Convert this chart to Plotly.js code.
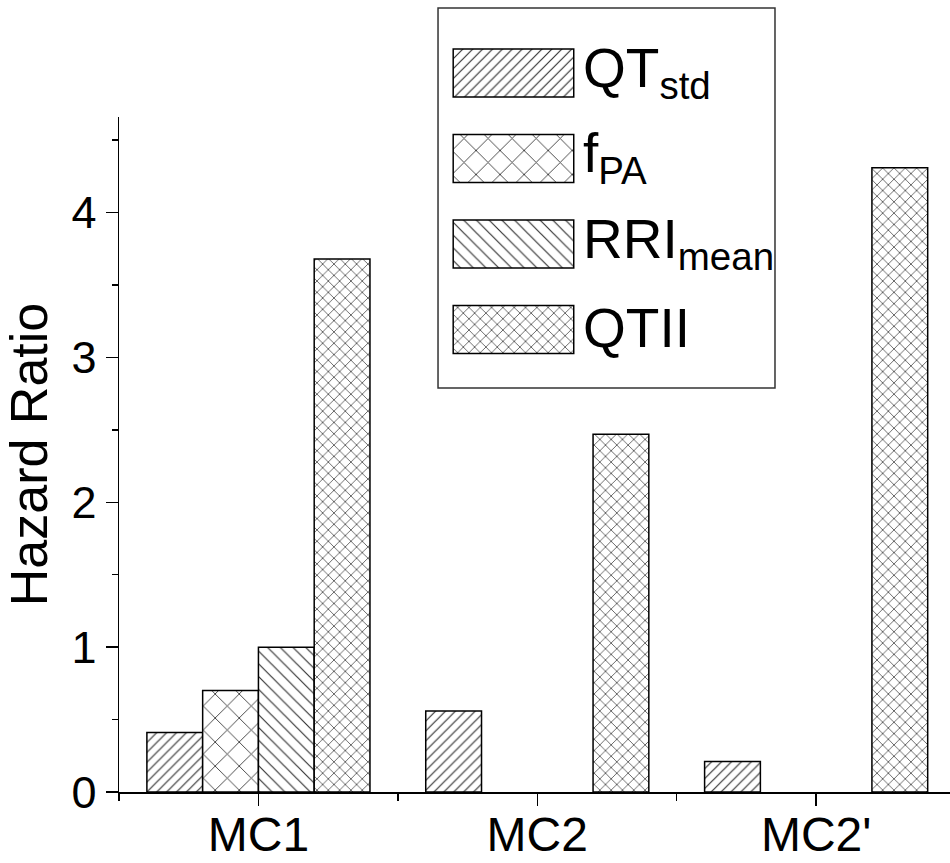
<!DOCTYPE html>
<html>
<head>
<meta charset="utf-8">
<script src="https://cdn.plot.ly/plotly-3.0.1.min.js"></script>
<style>html,body{margin:0;padding:0;background:#fff;}#chart{width:950px;height:863px;}</style>
</head>
<body>
<div id="chart"></div>
<script>
// ---- data ----
const categories = ['MC1', 'MC2', "MC2'"];
const categoryPos = [0, 1, 2];
const seriesKeys = ['QTstd', 'fPA', 'RRImean', 'QTII'];
const seriesLabels = ['QT<sub>std</sub>', 'f<sub>PA</sub>', 'RRI<sub>mean</sub>', 'QTII'];
const qtStd = [0.41, 0.56, 0.21];
const fPA = [0.70, null, null];
const rriMean = [1.00, null, null];
const qtii = [3.68, 2.47, 4.31];
const yTickVals = [0, 1, 2, 3, 4];
const yTickText = ['0', '1', '2', '3', '4'];

// ---- styles ----
const FONT = 'Liberation Sans, Arial, sans-serif';
const patShapes = ['/', 'x', '\\', 'x'];
const patSizes = [7, 17, 9, 8];
const patSolid = [0.17, 0.1, 0.13, 0.17];
const fg = '#333';
const seriesValues = [qtStd, fPA, rriMean, qtii];

const traces = seriesValues.map((vals, i) => ({
  type: 'bar',
  x: categoryPos,
  y: vals,
  name: seriesKeys[i],
  xaxis: 'x', yaxis: 'y',
  marker: {
    color: '#fff',
    line: {color: '#000', width: 1.5},
    pattern: {shape: patShapes[i], size: patSizes[i], solidity: patSolid[i], fgcolor: fg, bgcolor: '#fff', fillmode: 'replace'}
  },
  showlegend: false,
  hoverinfo: 'skip'
}));

// legend swatches drawn as bars on their own small axes
traces.push({
  type: 'bar',
  orientation: 'h',
  y: seriesKeys,
  x: seriesKeys.map(() => 1),
  width: 0.56,
  xaxis: 'x2', yaxis: 'y2',
  marker: {
    color: '#fff',
    line: {color: '#000', width: 1.5},
    pattern: {shape: patShapes, size: patSizes, solidity: patSolid, fgcolor: fg, bgcolor: '#fff', fillmode: 'replace'}
  },
  showlegend: false,
  hoverinfo: 'skip'
});

const annotations = seriesKeys.map((k, i) => ({
  xref: 'paper', yref: 'y2',
  x: 0.556, y: k,
  xanchor: 'left', yanchor: 'middle',
  text: seriesLabels[i],
  showarrow: false,
  font: {family: FONT, size: 55, color: '#000'},
  yshift: 1
}));

const layout = {
  width: 950, height: 863,
  margin: {l: 119, r: 0, t: 0, b: 71},
  paper_bgcolor: '#fff', plot_bgcolor: 'rgba(0,0,0,0)',
  font: {family: FONT, color: '#000'},
  barmode: 'group', bargap: 0.2, bargroupgap: 0,
  showlegend: false,
  xaxis: {
    domain: [0, 1],
    range: [-0.5, 2.48],
    tickmode: 'array', tickvals: categoryPos, ticktext: categories,
    ticks: 'outside', ticklen: 12, tickwidth: 1.5, tickcolor: '#000',
    minor: {tickmode: 'array', tickvals: [-0.5, 0.5, 1.5, 2.5], ticks: 'outside', ticklen: 7, tickwidth: 1.5, tickcolor: '#000', showgrid: false},
    showline: true, linecolor: '#000', linewidth: 1.5,
    showgrid: false, zeroline: false,
    tickfont: {family: FONT, size: 48, color: '#000'},
    ticklabelstandoff: -12,
    automargin: false
  },
  yaxis: {
    domain: [0, 0.8523],
    range: [0, 4.66],
    tickmode: 'array', tickvals: yTickVals, ticktext: yTickText,
    ticks: 'outside', ticklen: 12, tickwidth: 1.5, tickcolor: '#000',
    minor: {dtick: 0.5, tick0: 0, ticks: 'outside', ticklen: 6, tickwidth: 1.5, tickcolor: '#000', showgrid: false},
    showline: true, linecolor: '#000', linewidth: 1.5,
    showgrid: false, zeroline: false,
    tickfont: {family: FONT, size: 45, color: '#000'},
    title: {text: 'Hazard Ratio', font: {family: FONT, size: 52, color: '#000'}, standoff: 10},
    automargin: false
  },
  xaxis2: {
    domain: [0.4007, 0.5487], anchor: 'y2',
    range: [-0.01, 1.01], visible: false, fixedrange: true
  },
  yaxis2: {
    domain: [0.5300, 0.9618], anchor: 'x2',
    type: 'category', categoryorder: 'array', categoryarray: seriesKeys,
    range: [3.5, -0.5], visible: false, fixedrange: true
  },
  shapes: [{
    type: 'rect', xref: 'paper', yref: 'paper',
    x0: 0.3839, x1: 0.7894, y0: 0.5101, y1: 0.9899,
    line: {color: '#333', width: 1.5}, fillcolor: '#fff', layer: 'below'
  }],
  annotations: annotations
};

Plotly.newPlot('chart', traces, layout, {displayModeBar: false, staticPlot: true});
</script>
</body>
</html>
